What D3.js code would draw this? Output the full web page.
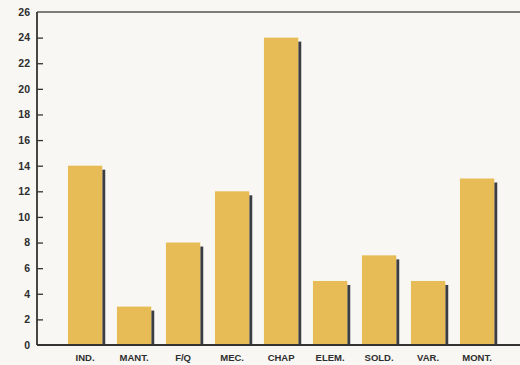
<!DOCTYPE html>
<html><head><meta charset="utf-8">
<script src="https://cdn.jsdelivr.net/npm/d3@7"></script>
<style>
html,body{margin:0;padding:0;background:#f8f7f3;}
svg{display:block;}
</style></head>
<body>
<svg id="chart" width="520" height="365"></svg>
<script>
const categories = ["IND.", "MANT.", "F/Q", "MEC.", "CHAP", "ELEM.", "SOLD.", "VAR.", "MONT."];
const values = [14, 3, 8, 12, 24, 5, 7, 5, 13];
const yTicks = [0, 2, 4, 6, 8, 10, 12, 14, 16, 18, 20, 22, 24, 26];

(function () {
const svg = d3.select("#chart");
const W = 520, H = 365;
const mLeft = 37, mTop = 12, mBottom = 345, mRight = 520;

svg.append("rect").attr("width", W).attr("height", H).attr("fill", "#f8f7f3");

const x = d3.scaleBand().domain(categories).range([60.6, 501.6]).paddingInner(0.3).paddingOuter(0.15);
const y = d3.scaleLinear().domain([0, 26]).range([mBottom, mTop]);

const g = svg.append("g");

// shadows
g.selectAll("rect.shadow").data(values).join("rect")
  .attr("class", "shadow")
  .attr("x", (d, i) => x(categories[i]) + x.bandwidth())
  .attr("y", d => y(d) + 4)
  .attr("width", 3)
  .attr("height", d => mBottom - y(d) - 4)
  .attr("fill", "#3b3d44");

// bars
g.selectAll("rect.bar").data(values).join("rect")
  .attr("class", "bar")
  .attr("x", (d, i) => x(categories[i]))
  .attr("y", d => y(d))
  .attr("width", x.bandwidth())
  .attr("height", d => mBottom - y(d))
  .attr("fill", "#e7bc56");

// top frame line
svg.append("line").attr("x1", mLeft).attr("x2", mRight).attr("y1", mTop).attr("y2", mTop)
  .attr("stroke", "#555").attr("stroke-width", 1.4);

// y axis
const yAxis = svg.append("g").attr("transform", `translate(${mLeft},0)`)
  .call(d3.axisLeft(y).tickValues(yTicks).tickSize(-6).tickPadding(7).tickFormat(d3.format("d")));
yAxis.select(".domain").remove();
yAxis.selectAll(".tick line").attr("stroke", "#333").attr("stroke-width", 1.3);
yAxis.selectAll(".tick").filter(d => d === 26 || d === 0).select("line").remove();
yAxis.selectAll("text").attr("font-family", "Liberation Sans, Arial, sans-serif")
  .attr("font-weight", "bold").attr("font-size", 10.5).attr("fill", "#2e2e2e");
svg.append("line").attr("x1", mLeft).attr("x2", mLeft).attr("y1", mTop).attr("y2", mBottom)
  .attr("stroke", "#333").attr("stroke-width", 1.8);

// x axis
const xAxis = svg.append("g").attr("transform", `translate(0,${mBottom})`)
  .call(d3.axisBottom(x).tickSize(0).tickPadding(9));
xAxis.select(".domain").remove();
xAxis.selectAll("text").attr("font-family", "Liberation Sans, Arial, sans-serif")
  .attr("font-weight", "bold").attr("font-size", 9.5).attr("fill", "#2e2e2e");
svg.append("line").attr("x1", mLeft).attr("x2", mRight).attr("y1", mBottom).attr("y2", mBottom)
  .attr("stroke", "#333").attr("stroke-width", 1.8);
})();
</script>
</body></html>
